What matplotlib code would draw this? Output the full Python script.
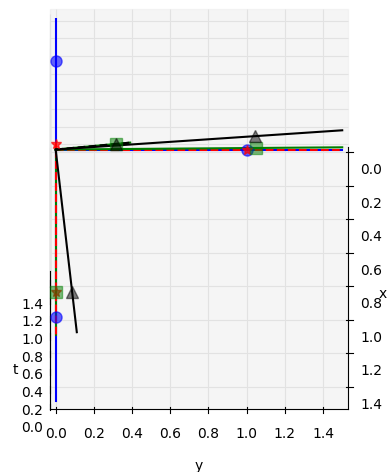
import numpy as np
import matplotlib
matplotlib.use("Agg")
import matplotlib.pyplot as plt

plt.rcParams['grid.color'] = '#e2e2e2'

# basis vectors of each frame, given as (x, y, t)
# blue = lab frame, red = boost along x, green = x boost then y boost,
# black = single boost with the same final velocity
blue_ex = [1.0, 0.0, 0.0]
blue_ey = [0.0, 1.0, 0.0]
blue_et = [0.0, 0.0, 1.0]

red_ex = [1.155, 0.0, 0.577]
red_ey = [0.0, 1.0, 0.0]
red_et = [0.577, 0.0, 1.155]

green_ex = [1.155, 0.0, 0.577]
green_ey = [0.182, 1.048, 0.363]
green_et = [0.605, 0.315, 1.211]

black_ex = [1.166, 0.086, 0.605]
black_ey = [0.086, 1.045, 0.315]
black_et = [0.605, 0.315, 1.211]

axis_len = 1.5   # each axis line runs until its largest coordinate hits this
lims = (-0.03125, 1.53125)
ticks = [0.0, 0.2, 0.4, 0.6, 0.8, 1.0, 1.2, 1.4]

fig = plt.figure(figsize=(3.92, 4.72), dpi=100)
ax = fig.add_axes([-0.006, 0.131, 1.0, 0.83], projection='3d',
                  proj_type='ortho', computed_zorder=False)


def axis_line(e, style, z):
    e = np.array(e)
    s = axis_len / np.abs(e).max()
    ax.plot([0, s * e[0]], [0, s * e[1]], [0, s * e[2]], style, zorder=z)


def unit_marks(vecs, z, **kw):
    v = np.array(vecs)
    ax.plot(v[:, 0], v[:, 1], v[:, 2], linestyle='none', zorder=z, **kw)


# lab frame
axis_line(blue_ex, 'b-', 1)
axis_line(blue_ey, 'b-', 1)
axis_line(blue_et, 'b-', 1)

# single x boost
axis_line(red_ex, 'r--', 3)
axis_line(red_ey, 'r--', 2)
axis_line(red_et, 'r--', 2)

# two boosts
axis_line(green_ex, 'g-', 2)
axis_line(green_ey, 'g-', 3)
axis_line(green_et, 'g-', 3)

# direct boost
axis_line(black_ex, 'k-', 4)
axis_line(black_ey, 'k-', 4)
axis_line(black_et, 'k--', 4)

unit_marks([blue_ex, blue_ey, blue_et], 5, marker='o', color='b', alpha=0.6, markersize=8)
unit_marks([red_ex, red_ey, red_et], 6, marker='*', color='r', alpha=0.7, markersize=7)
unit_marks([green_ex, green_ey, green_et], 7, marker='s', color='g', alpha=0.5, markersize=9)
unit_marks([black_ex, black_ey, black_et], 8, marker='^', color='k', alpha=0.5, markersize=9)

ax.set_xlim(*lims)
ax.set_ylim(*lims)
ax.set_zlim(*lims)
ax.set_xticks(ticks)
ax.set_yticks(ticks)
ax.set_zticks(ticks)
ax.set_xlabel('x', labelpad=-4)
ax.set_ylabel('y', labelpad=0)
ax.set_zlabel('t', labelpad=-4)
ax.tick_params(axis='z', pad=0.5)
ax.tick_params(axis='y', pad=-1.5)
ax.xaxis.set_pane_color((0.925, 0.925, 0.925, 0.5))
ax.set_box_aspect((4, 3.73, 3), zoom=1.237)
ax.view_init(elev=54.9, azim=0)

plt.savefig('out.png', dpi=100)
